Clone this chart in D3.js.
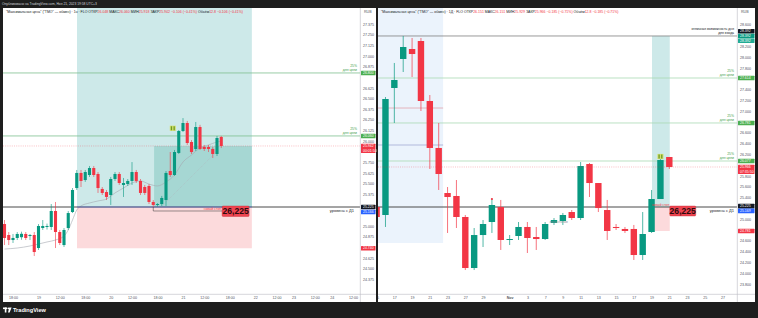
<!DOCTYPE html>
<html><head><meta charset="utf-8">
<script src="https://cdn.jsdelivr.net/npm/d3@7/dist/d3.min.js"></script>
<style>
html,body{margin:0;padding:0;background:#1e1e1e;overflow:hidden}
svg{display:block}
</style></head><body>
<svg id="chart" width="758" height="318"></svg>
<script>
// ================= DATA =================
// Left panel (1h candles), index = candle slot
const leftOpen  = [25.025,24.896,24.837,24.861,24.870,24.908,24.884,24.896,24.743,24.978,24.990,24.990,25.178,24.931,24.778,24.978,25.166,25.448,25.625,25.542,25.601,25.683,25.613,25.437,25.401,25.366,25.554,25.613,25.484,25.495,25.531,25.636,25.531,25.460,25.472,25.284,25.249,25.260,25.307,25.648,25.601,25.860,26.118,26.212,25.989,25.907,26.165,25.930,25.930,25.907,25.848,26.048];
const leftHigh  = [25.072,24.931,24.908,24.931,24.935,24.931,24.908,24.931,25.025,25.072,25.030,25.260,25.284,24.955,24.978,25.178,25.448,25.660,25.660,25.660,25.707,25.707,25.636,25.460,25.425,25.578,25.636,25.636,25.566,25.554,25.753,25.660,25.554,25.484,25.495,25.307,25.270,25.355,25.648,25.871,25.895,26.130,26.270,26.236,26.012,26.224,26.190,25.954,25.954,25.930,26.060,26.060];
const leftLow   = [24.778,24.778,24.802,24.837,24.840,24.837,24.837,24.649,24.720,24.955,24.960,24.955,24.743,24.778,24.755,24.955,25.154,25.425,25.460,25.520,25.578,25.578,25.390,25.366,25.307,25.249,25.531,25.484,25.343,25.472,25.484,25.507,25.366,25.366,25.260,25.225,25.230,25.237,25.237,25.578,25.590,25.848,26.106,25.954,25.848,25.883,25.895,25.883,25.871,25.801,25.824,25.918];
const leftClose = [24.861,24.837,24.861,24.908,24.910,24.861,24.896,24.696,25.002,25.002,25.002,25.178,24.931,24.802,24.955,25.154,25.425,25.625,25.531,25.636,25.683,25.601,25.448,25.390,25.343,25.554,25.613,25.507,25.507,25.531,25.636,25.531,25.390,25.390,25.284,25.249,25.260,25.331,25.625,25.601,25.871,26.118,26.212,25.977,25.871,26.165,25.907,25.907,25.907,25.848,26.036,25.942];
// moving average (slot, value)
const leftMAIdx = [0,3,6,8,10,12,14,15,16,17,18,20,22,24,26,28,30,32,34,36,38,40,42,44,46,48,50,51];
const leftMAVal = [24.731,24.743,24.767,24.790,24.814,24.837,24.884,24.955,25.072,25.190,25.237,25.272,25.296,25.319,25.390,25.448,25.507,25.531,25.495,25.472,25.519,25.601,25.754,25.836,25.918,25.954,25.989,26.001];
const leftTrendIdx = [37.3, 49.1];
const leftTrendVal = [25.249, 25.836];
const leftPriceTicks = [24.375,24.5,24.625,24.75,24.875,25,25.125,25.25,25.375,25.5,25.625,25.75,25.875,26,26.125,26.25,26.375,26.5,26.625,26.75,26.875,27,27.125,27.25,27.375];
const leftTimeIdx = [2,8,13,19,25,30,36,42,47,53,59,64,68,73,77,82];
const leftTimeLabels = ["18:00","19","12:00","18:00","20","12:00","18:00","21","12:00","18:00","22","12:00","23","12:00","24","12:00"];
const leftGreenLevels = [26.800, 26.060];
const leftBlueLevel = 25.166;
const leftStopLevel = 24.740;
const leftPosIdx = [17.06, 58.2];
const leftInnerIdx = [35.2, 58.2];
const leftTargetTop = 27.70;
const leftStopLineIdx = [35.0, 51.2];
const leftStopLineVal = [25.225, 25.178];
const leftSignal = [39.6, 26.150];

// Right panel (daily candles)
const rightOpen  = [25.225,25.077,27.429,27.966,28.151,28.299,27.188,26.318,25.484,25.429,25.040,24.095,24.706,24.947,25.225,24.614,24.688,24.855,24.669,24.632,24.929,24.966,25.132,25.021,26.021,25.669,25.169,24.855,24.818,24.818,24.336,24.762,25.373,26.151];
const rightHigh  = [25.355,27.262,27.892,28.392,28.355,28.355,27.299,26.781,25.595,25.725,25.077,24.836,24.984,25.373,25.355,24.706,24.947,24.947,24.855,24.947,25.021,25.114,25.169,26.058,26.040,25.669,25.355,24.910,24.855,24.892,25.132,25.540,26.188,26.151];
const rightLow   = [24.947,24.855,26.781,27.725,27.632,27.003,25.929,25.540,24.744,24.836,24.058,24.058,24.484,24.744,24.429,24.521,24.614,24.373,24.429,24.614,24.892,24.892,24.984,24.984,25.410,25.132,24.614,24.799,24.744,24.244,24.244,24.744,25.373,25.929];
const rightClose = [25.040,27.225,27.577,28.188,28.058,27.188,26.318,25.836,25.410,25.040,24.095,24.706,24.910,25.262,24.614,24.632,24.855,24.651,24.632,24.910,24.984,25.077,25.021,25.984,25.669,25.206,24.781,24.836,24.781,24.336,24.725,25.373,26.095,25.966];
const rightPriceTicks = [23.6,23.8,24.0,24.2,24.4,24.6,24.8,25.0,25.2,25.4,25.6,25.8,26.0,26.2,26.4,26.6,26.8,27.0,27.2,27.4,27.6,27.8,28.0,28.2,28.4,28.6];
const rightTimeIdx = [0,2,4,6,8,10,12,15,17,19,21,23,25,27,29,31,33,35,37,39];
const rightTimeLabels = ["15","17","19","21","23","27","29","Nov","3","7","9","11","13","15","17","19","21","23","25","27"];
const rightGrayLevel = 28.392;
const rightGreenLevels = [27.614, 26.781, 26.077];
const rightBlueLevel = 25.169;
const rightStopLevel = 24.781;
const rightPosIdx = [31.05, 33.05];
const rightZoneIdx = [-1, 7.5];
const rightZoneBottom = 24.558;
const rightZoneLines = [27.058, 26.373];
const rightSignal = [32, 26.160];
const rightStopZoneText = [19.5, 24.92];

const keyLevel = 25.225;
const bigLabelText = "26,225";

// ================= DRAW =================
const W = 758, H = 318, TOP = 8, BOTTOM = 294, TIMEB = 302;
const GREEN = '#089981', RED = '#f23645';
const FONT = '"Liberation Sans", Arial, sans-serif';
const fmt3 = d3.format('.3f');
const svg = d3.select('#chart').attr('font-family', FONT);
svg.append('rect').attr('width', W).attr('height', H).attr('fill', '#1e1e1e');
const defs = svg.append('defs');

const L = {x0:3, x1:360, ax1:376,
  xs: d3.scaleLinear().domain([0,84]).range([4.5,361.5]),
  ys: d3.scaleLinear().domain([25.225,27.375]).range([207,24.035])};
const R = {x0:378, x1:737, ax1:755,
  xs: d3.scaleLinear().domain([0,40]).range([376.6,731.4]),
  ys: d3.scaleLinear().domain([25.225,28.0]).range([207,57.15])};

[L,R].forEach((p,i)=>{
  defs.append('clipPath').attr('id','clip'+i).append('rect')
    .attr('x',p.x0).attr('y',TOP).attr('width',p.x1-p.x0).attr('height',BOTTOM-TOP);
  defs.append('clipPath').attr('id','tclip'+i).append('rect')
    .attr('x',p.x0).attr('y',BOTTOM).attr('width',p.x1-p.x0).attr('height',TIMEB-BOTTOM);
  svg.append('rect').attr('x',p.x0).attr('y',TOP).attr('width',p.ax1-p.x0).attr('height',TIMEB-TOP).attr('fill','#fff');
  p.g = svg.append('g').attr('clip-path',`url(#clip${i})`);
  p.ci = i;
});

function box(p, i0, i1, v0, v1, fill){
  p.g.append('rect').attr('x',p.xs(i0)).attr('width',p.xs(i1)-p.xs(i0))
    .attr('y',p.ys(Math.max(v0,v1))).attr('height',Math.abs(p.ys(v0)-p.ys(v1))).attr('fill',fill);
}
function hline(p, v, color, w, dash, i0, i1){
  const xa = i0===undefined ? p.x0 : p.xs(i0), xb = i1===undefined ? p.x1 : p.xs(i1);
  const l = p.g.append('line').attr('x1',xa).attr('x2',xb).attr('y1',p.ys(v)).attr('y2',p.ys(v))
    .attr('stroke',color).attr('stroke-width',w);
  if (dash) l.attr('stroke-dasharray',dash);
  return l;
}
function candles(p, O, Hh, Lw, C, bw, ww){
  const data = O.map((o,i)=>({i, o, h:Hh[i], l:Lw[i], c:C[i]}));
  p.g.append('g').selectAll('line').data(data).join('line')
    .attr('x1',d=>p.xs(d.i)).attr('x2',d=>p.xs(d.i))
    .attr('y1',d=>p.ys(d.h)).attr('y2',d=>p.ys(d.l))
    .attr('stroke',d=>d.c>=d.o?GREEN:RED).attr('stroke-width',ww);
  p.g.append('g').selectAll('rect').data(data).join('rect')
    .attr('x',d=>p.xs(d.i)-bw/2).attr('width',bw)
    .attr('y',d=>p.ys(Math.max(d.o,d.c)))
    .attr('height',d=>Math.max(0.9,Math.abs(p.ys(d.o)-p.ys(d.c))))
    .attr('fill',d=>d.c>=d.o?GREEN:RED);
}
function txt(p, x, y, s, size, fill, anchor, weight){
  return p.g.append('text').attr('x',x).attr('y',y).text(s).attr('font-size',size)
    .attr('fill',fill).attr('text-anchor',anchor||'start').attr('font-weight',weight||'normal');
}
function signal(p, s){
  const x = p.xs(s[0]), y = p.ys(s[1]);
  p.g.append('rect').attr('x',x-3).attr('y',y-2.6).attr('width',6).attr('height',5.2).attr('fill','#d4e06a');
  p.g.append('rect').attr('x',x-2).attr('y',y-2).attr('width',1.3).attr('height',4).attr('fill','#6a9a2a');
  p.g.append('rect').attr('x',x+0.7).attr('y',y-2).attr('width',1.3).attr('height',4).attr('fill','#6a9a2a');
}
function bigLabel(p, idx, w, h){
  const x = p.xs(idx), y = p.ys(keyLevel) - 1;
  p.g.append('rect').attr('x',x).attr('y',y).attr('width',w).attr('height',h).attr('rx',1)
    .attr('fill','#ee4450').attr('stroke','#c62833').attr('stroke-width',0.4);
  p.g.append('text').attr('x',x+w/2).attr('y',y+h/2+3).attr('text-anchor','middle')
    .attr('font-size',8.6).attr('font-weight','bold').attr('fill','#2e0a0d').text(bigLabelText);
}
function targetText(p, v){
  txt(p, p.x1-3, p.ys(v)-5.5, '25%', 3.4, '#43a047', 'end');
  txt(p, p.x1-3, p.ys(v)-1.6, 'для цели', 3.4, '#43a047', 'end');
}

// ---------- LEFT PANEL ----------
box(L, leftPosIdx[0], leftPosIdx[1], keyLevel, leftTargetTop, '#cde9e9');
box(L, leftInnerIdx[0], leftInnerIdx[1], keyLevel, leftClose[leftClose.length-1], '#a6d7d3');
box(L, leftPosIdx[0], leftPosIdx[1], keyLevel, leftStopLevel, '#fcdadc');
leftGreenLevels.forEach(v=>hline(L, v, '#7fc08f', 0.8));
L.g.append('path').datum(leftMAIdx.map((d,i)=>[d,leftMAVal[i]]))
  .attr('d', d3.line().x(d=>L.xs(d[0])).y(d=>L.ys(d[1])).curve(d3.curveMonotoneX))
  .attr('fill','none').attr('stroke','#a5a8b0').attr('stroke-width',0.6);
L.g.append('line').attr('x1',L.xs(leftTrendIdx[0])).attr('y1',L.ys(leftTrendVal[0]))
  .attr('x2',L.xs(leftTrendIdx[1])).attr('y2',L.ys(leftTrendVal[1]))
  .attr('stroke','#b0b3ba').attr('stroke-width',0.5).attr('stroke-dasharray','1,1');
hline(L, keyLevel, '#4a4a4a', 1);
hline(L, keyLevel, '#5b6fd6', 0.7, null, leftPosIdx[0], leftPosIdx[1]);
candles(L, leftOpen, leftHigh, leftLow, leftClose, 3.1, 0.6);
hline(L, leftClose[leftClose.length-1], RED, 0.5, '1,1.2').attr('opacity',0.6);
leftGreenLevels.forEach(v=>targetText(L, v));
txt(L, L.x1-6, L.ys(keyLevel)+5.4, 'уровень с Д1', 4, '#131722', 'end');
L.g.append('path')
  .attr('d', `M${L.xs(leftStopLineIdx[0])},${L.ys(leftStopLineVal[0])}V${L.ys(leftStopLineVal[1])}H${L.xs(leftStopLineIdx[1])}`)
  .attr('fill','none').attr('stroke','#333').attr('stroke-width',0.5);
txt(L, L.xs(leftStopLineIdx[1])-1, L.ys(keyLevel)+2.6, 'новый стоп', 3.3, RED, 'end');
signal(L, leftSignal);
bigLabel(L, leftStopLineIdx[1], 27, 10.5);

// ---------- RIGHT PANEL ----------
box(R, rightZoneIdx[0], rightZoneIdx[1], rightZoneBottom, 29.2, '#ebf3fc');
box(R, rightPosIdx[0], rightPosIdx[1], keyLevel, rightGrayLevel, '#cde9e9');
box(R, rightPosIdx[0], rightPosIdx[1], keyLevel, rightStopLevel, '#fcdadc');
rightZoneLines.forEach((v,i)=>hline(R, v, i===0?'#e08a90':'#8a96c8', 0.6, null, rightZoneIdx[0], rightZoneIdx[1]));
hline(R, rightGrayLevel, '#7d7d7d', 0.8);
rightGreenLevels.forEach(v=>hline(R, v, '#a9d9b2', 0.8));
hline(R, keyLevel, '#4a4a4a', 1);
candles(R, rightOpen, rightHigh, rightLow, rightClose, 6.4, 0.7);
R.g.append('circle').attr('cx',R.xs(13)).attr('cy',R.ys(rightHigh[13])).attr('r',1.1).attr('fill',RED);
hline(R, rightClose[rightClose.length-1], RED, 0.5, '1,1.2').attr('opacity',0.6);
rightGreenLevels.forEach(v=>targetText(R, v));
txt(R, R.x1-3, R.ys(rightGrayLevel)-5.6, 'отличная возможность дня', 3.4, '#131722', 'end');
txt(R, R.x1-3, R.ys(rightGrayLevel)-1.8, 'для входа', 3.4, '#131722', 'end');
txt(R, R.x1-3, R.ys(keyLevel)+5, 'уровень с Д1', 4, '#131722', 'end');
txt(R, R.xs(rightStopZoneText[0]), R.ys(rightStopZoneText[1]), 'зона стопов', 3.3, '#8a8d96', 'start');
txt(R, R.xs(rightPosIdx[1])-0.5, R.ys(keyLevel)-0.8, 'новый стоп', 3.3, RED, 'end');
signal(R, rightSignal);
bigLabel(R, rightPosIdx[1], 26, 10);

// ---------- AXES ----------
function priceAxis(p, ticks, labels){
  // resolve colored label overlaps
  labels.forEach(l=>{ l.top = p.ys(l.v) - 2.3; l.h = l.lines.length*4.6; });
  labels.sort((a,b)=>a.top-b.top);
  for (let it=0; it<40; it++){
    for (let i=0;i<labels.length-1;i++){
      const a=labels[i], b=labels[i+1];
      const ov = a.top + a.h + 0.2 - b.top;
      if (ov>0){ a.top -= ov/2; b.top += ov/2; }
    }
  }
  const vis = ticks.filter(t=>{
    const y = p.ys(t);
    return y > TOP+6 && y < BOTTOM-2 && !labels.some(l=>y > l.top-2 && y < l.top+l.h+2);
  });
  svg.append('line').attr('x1',p.x1+0.3).attr('x2',p.x1+0.3).attr('y1',TOP).attr('y2',TIMEB)
    .attr('stroke','#b8bbc2').attr('stroke-width',0.6);
  const ag = svg.append('g').attr('transform',`translate(${p.x1},0)`)
    .call(d3.axisRight(p.ys).tickValues(vis).tickSize(0).tickPadding(3).tickFormat(fmt3));
  ag.select('.domain').remove();
  ag.selectAll('text').attr('font-size',3.6).attr('fill','#50535e').attr('font-family',FONT);
  svg.append('text').attr('x',p.x1+4).attr('y',12.6).text('RUB').attr('font-size',3.6).attr('fill','#50535e');
  const lg = svg.append('g');
  labels.forEach(l=>{
    lg.append('rect').attr('x',p.x1+1).attr('y',l.top).attr('width',p.ax1-p.x1-1.5).attr('height',l.h)
      .attr('fill',l.bg).attr('rx',0.5);
    l.lines.forEach((s,k)=>lg.append('text').attr('x',p.x1+3).attr('y',l.top+3.5+k*4.6)
      .text(s).attr('font-size',3.5).attr('fill','#fff'));
  });
}
priceAxis(L, leftPriceTicks, [
  ...leftGreenLevels.map(v=>({v, bg:'#4caf50', lines:[fmt3(v)]})),
  {v:leftClose[leftClose.length-1], bg:RED, lines:[fmt3(leftClose[leftClose.length-1]),'00:01:50']},
  {v:keyLevel, bg:'#131722', lines:[fmt3(keyLevel)]},
  {v:leftBlueLevel, bg:'#2962ff', lines:[fmt3(leftBlueLevel)]},
  {v:leftStopLevel, bg:RED, lines:[fmt3(leftStopLevel)]}
]);
priceAxis(R, rightPriceTicks, [
  {v:rightGrayLevel, bg:'#131722', lines:[fmt3(rightGrayLevel)]},
  {v:rightGrayLevel, bg:GREEN, lines:[fmt3(rightGrayLevel)]},
  {v:rightGrayLevel, bg:'#22ab94', lines:[fmt3(rightGrayLevel)]},
  ...rightGreenLevels.map(v=>({v, bg:'#4caf50', lines:[fmt3(v)]})),
  {v:rightClose[rightClose.length-1], bg:RED, lines:[fmt3(rightClose[rightClose.length-1]),'07:35:50']},
  {v:keyLevel, bg:'#131722', lines:[fmt3(keyLevel)]},
  {v:rightBlueLevel, bg:'#2962ff', lines:[fmt3(rightBlueLevel)]},
  {v:rightStopLevel, bg:RED, lines:[fmt3(rightStopLevel)]}
]);

function timeAxis(p, idx, labels){
  svg.append('line').attr('x1',p.x0).attr('x2',p.ax1).attr('y1',BOTTOM+0.3).attr('y2',BOTTOM+0.3)
    .attr('stroke','#b8bbc2').attr('stroke-width',0.6);
  const outer = svg.append('g').attr('clip-path',`url(#tclip${p.ci})`);
  const g = outer.append('g').attr('transform',`translate(0,${BOTTOM})`)
    .call(d3.axisBottom(p.xs).tickValues(idx).tickFormat((d,i)=>labels[i]).tickSize(0).tickPadding(2.2));
  g.select('.domain').remove();
  g.selectAll('text').attr('font-size',3.6).attr('fill','#50535e').attr('font-family',FONT)
    .attr('font-weight',(d,i)=>labels[i]==='Nov'?'bold':'normal');
}
timeAxis(L, leftTimeIdx, leftTimeLabels);
timeAxis(R, rightTimeIdx, rightTimeLabels);

// ---------- HEADERS ----------
function header(x, tf, O, Hh, Lw, C){
  const n = C.length-1, o=O[n], h=Hh[n], l=Lw[n], c=C[n];
  const ch = c-o, pct = ch/o*100;
  const chs = `${ch<0?'−':'+'}${fmt3(Math.abs(ch))} (${ch<0?'−':'+'}${Math.abs(pct).toFixed(2)}%)`;
  const parts = [[`"Максимальная цена" ("ТМО" — обмен) · ${tf} · FLO  `,'#131722'],
    ['ОТКР','#131722'],[fmt3(o),RED],[' МАКС','#131722'],[fmt3(h),RED],
    [' МИН','#131722'],[fmt3(l),RED],[' ЗАКР','#131722'],[fmt3(c),RED],
    [' '+chs,RED],['  Объём','#131722'],['12.8',RED],[' '+chs,RED]];
  const t = svg.append('text').attr('x',x).attr('y',12.6).attr('font-size',3.5);
  t.selectAll('tspan').data(parts).join('tspan').text(d=>d[0]).attr('fill',d=>d[1]);
}
header(6, '1ч', leftOpen, leftHigh, leftLow, leftClose);
header(381, '1Д', rightOpen, rightHigh, rightLow, rightClose);

svg.append('text').attr('x',2).attr('y',5.2).attr('font-size',3.3).attr('fill','#d1d4dc')
  .text('Опубликовано на TradingView.com, Ноя 21, 2023 19:58 UTC+3');

// footer logo
const fg = svg.append('g');
fg.append('rect').attr('x',3).attr('y',307.5).attr('width',4).attr('height',1.6).attr('fill','#fff');
fg.append('rect').attr('x',4.8).attr('y',307.5).attr('width',1.6).attr('height',5).attr('fill','#fff');
fg.append('circle').attr('cx',8.3).attr('cy',308.3).attr('r',0.9).attr('fill','#fff');
fg.append('path').attr('d','M9.2,307.5 L11.6,307.5 L9.6,312.5 L8,312.5 Z').attr('fill','#fff');
fg.append('text').attr('x',13).attr('y',312.2).text('TradingView').attr('font-size',5.6)
  .attr('font-weight','bold').attr('fill','#fff');
</script>
</body></html>
